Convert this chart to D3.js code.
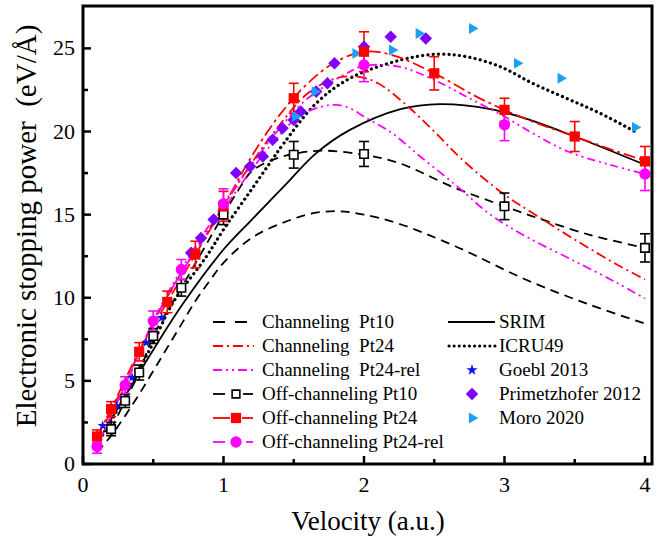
<!DOCTYPE html>
<html>
<head>
<meta charset="utf-8">
<script src="https://cdn.jsdelivr.net/npm/d3@7"></script>
<style>
  body { margin: 0; background: #fff; }
</style>
</head>
<body>
<svg id="chart" width="672" height="542"></svg>
<script>
// ---- data ----
const chPt10V = [0.1, 0.2, 0.3, 0.4, 0.5, 0.6, 0.7, 0.8, 0.9, 1.0, 1.2, 1.45, 1.65, 1.83, 2.0, 2.25, 2.65, 3.15, 3.6, 4.0];
const chPt10S = [0.7, 1.7, 2.9, 4.2, 5.6, 7.0, 8.4, 9.8, 11.0, 12.1, 13.6, 14.6, 15.1, 15.2, 15.0, 14.45, 13.1, 11.1, 9.6, 8.45];

const chPt24V = [0.1, 0.3, 0.5, 0.7, 1.0, 1.2, 1.4, 1.6, 1.8, 1.95, 2.1, 2.3, 2.5, 2.7, 3.0, 3.2, 3.5, 3.8, 4.0];
const chPt24S = [1.5, 4.9, 8.5, 11.5, 15.5, 18.1, 20.4, 22.3, 23.2, 23.3, 22.9, 21.6, 20.0, 18.3, 16.2, 15.1, 13.5, 12.0, 11.1];

const chRelV = [0.1, 0.3, 0.5, 0.7, 1.0, 1.2, 1.4, 1.55, 1.7, 1.8, 1.9, 2.0, 2.2, 2.4, 2.65, 2.9, 3.15, 3.5, 3.8, 4.0];
const chRelS = [1.1, 4.7, 8.5, 11.5, 15.3, 17.7, 19.8, 21.0, 21.5, 21.6, 21.4, 20.9, 19.9, 18.5, 16.8, 15.0, 13.7, 12.2, 10.9, 9.95];

const offPt10CurveV = [0.2, 0.3, 0.4, 0.5, 0.7, 1.0, 1.1, 1.2, 1.35, 1.5, 1.7, 2.0, 2.25, 2.65, 3.0, 3.2, 3.6, 4.0];
const offPt10CurveS = [2.1, 3.8, 5.5, 7.7, 10.6, 15.0, 16.4, 17.6, 18.3, 18.65, 18.85, 18.6, 18.1, 16.6, 15.5, 14.9, 13.8, 13.0];
const offPt10V = [0.2, 0.3, 0.4, 0.5, 0.7, 1.0, 1.5, 2.0, 3.0, 4.0];
const offPt10S = [2.1, 3.8, 5.5, 7.7, 10.6, 15.0, 18.6, 18.65, 15.5, 13.0];
const offPt10E = [0.4, 0.4, 0.45, 0.45, 0.5, 0.6, 0.8, 0.75, 0.8, 0.85];

const offPt24CurveV = [0.1, 0.2, 0.4, 0.6, 0.8, 1.0, 1.2, 1.4, 1.6, 1.8, 2.0, 2.2, 2.5, 2.8, 3.0, 3.2, 3.5, 3.8, 4.0];
const offPt24CurveS = [1.65, 3.3, 6.8, 9.75, 12.6, 15.5, 18.5, 21.0, 22.9, 24.2, 24.8, 24.6, 23.5, 22.1, 21.3, 20.6, 19.7, 18.8, 18.25];
const offPt24V = [0.1, 0.2, 0.4, 0.6, 0.8, 1.0, 1.5, 2.0, 2.5, 3.0, 3.5, 4.0];
const offPt24S = [1.65, 3.3, 6.75, 9.75, 12.6, 15.5, 22.0, 24.8, 23.5, 21.3, 19.7, 18.2];
const offPt24E = [0.4, 0.45, 0.55, 0.65, 0.8, 0.9, 0.9, 1.2, 1.0, 0.7, 0.9, 0.9];

const offRelCurveV = [0.1, 0.3, 0.5, 0.7, 1.0, 1.2, 1.4, 1.6, 1.9, 2.0, 2.25, 2.5, 2.75, 3.0, 3.2, 3.45, 3.75, 4.0];
const offRelCurveS = [1.05, 4.75, 8.6, 11.7, 15.65, 18.0, 20.2, 22.0, 23.6, 23.95, 23.9, 23.1, 22.0, 20.9, 19.9, 18.8, 18.0, 17.45];
const offRelV = [0.1, 0.3, 0.5, 0.7, 1.0, 2.0, 3.0, 4.0];
const offRelS = [1.05, 4.75, 8.6, 11.7, 15.65, 24.0, 20.4, 17.45];
const offRelE = [0.4, 0.5, 0.6, 0.6, 0.9, 1.0, 0.95, 1.0];

const srimV = [0.1, 0.2, 0.3, 0.43, 0.7, 1.0, 1.19, 1.43, 1.66, 1.9, 2.26, 2.54, 2.9, 3.18, 3.5, 4.0];
const srimS = [1.2, 2.7, 4.1, 5.9, 9.5, 12.9, 14.6, 16.7, 18.7, 20.1, 21.35, 21.65, 21.35, 20.7, 19.7, 18.0];

const icruV = [0.1, 0.2, 0.3, 0.4, 0.5, 0.64, 0.88, 1.0, 1.19, 1.33, 1.43, 1.66, 1.9, 2.26, 2.52, 2.73, 2.97, 3.2, 3.44, 3.68, 3.95];
const icruS = [1.2, 2.6, 4.1, 5.7, 7.3, 9.7, 12.5, 14.1, 16.4, 18.1, 19.3, 21.7, 23.2, 24.3, 24.65, 24.5, 23.9, 22.9, 22.0, 21.1, 19.9];

const goeblV = [0.14, 0.24, 0.35, 0.45, 0.56];
const goeblS = [2.3, 3.5, 5.2, 7.3, 8.8];

const primV = [0.77, 0.84, 0.93, 1.09, 1.19, 1.28, 1.35, 1.42, 1.5, 1.55, 1.66, 1.74, 1.79, 2.0, 2.19, 2.44];
const primS = [12.7, 13.6, 14.7, 17.5, 17.9, 18.5, 19.5, 20.2, 20.7, 21.2, 22.4, 22.9, 24.1, 25.1, 25.7, 25.6];

const moroV = [1.51, 1.65, 1.94, 2.2, 2.39, 2.77, 3.09, 3.4, 3.93];
const moroS = [20.9, 22.4, 24.7, 24.9, 25.9, 26.2, 24.1, 23.2, 20.25];

const xTicks = [0, 1, 2, 3, 4];
const yTicks = [0, 5, 10, 15, 20, 25];

// ---- layout ----
const FONT = "'Liberation Serif', 'DejaVu Serif', serif";
const svg = d3.select("#chart").attr("font-family", FONT);
const mLeft = 83, mRight = 652, mTop = 6, mBottom = 464;
const x = d3.scaleLinear().domain([0, 4.05]).range([mLeft, mRight]);
const y = d3.scaleLinear().domain([0, 27.55]).range([mBottom, mTop]);

const RED = "#ff0000", MAG = "#ff00ff", PURP = "#8000ff", SKY = "#1ea0f0", BLUE = "#0a14f0";

function pts(vs, ss) { return vs.map((v, i) => ({ v: v, s: ss[i] })); }
const line = d3.line().x(d => x(d.v)).y(d => y(d.s)).curve(d3.curveCatmullRom.alpha(0.5));

const plot = svg.append("g");

function drawCurve(vs, ss, color, dash, width, cap) {
  plot.append("path")
    .datum(pts(vs, ss))
    .attr("d", line)
    .attr("fill", "none")
    .attr("stroke", color)
    .attr("stroke-width", width || 1.8)
    .attr("stroke-linecap", cap || "butt")
    .attr("stroke-dasharray", dash);
}

drawCurve(chPt10V, chPt10S, "#000", "9,6");
drawCurve(offPt10CurveV, offPt10CurveS, "#000", "9,6");
drawCurve(srimV, srimS, "#000", null, 1.8);
drawCurve(icruV, icruS, "#000", "0.1,5.2", 3.2, "round");
drawCurve(chPt24V, chPt24S, RED, "10,4,2,4");
drawCurve(offPt24CurveV, offPt24CurveS, RED, "12,4,3,4");
drawCurve(chRelV, chRelS, MAG, "9,4,2,4,2,4");
drawCurve(offRelCurveV, offRelCurveS, MAG, "8,4,2,4,2,4");

// error bars
function errorBars(vs, ss, es, color) {
  const g = plot.append("g").attr("stroke", color).attr("stroke-width", 1.6);
  pts(vs, ss).forEach((d, i) => {
    const cx = x(d.v), y0 = y(d.s - es[i]), y1 = y(d.s + es[i]);
    g.append("line").attr("x1", cx).attr("x2", cx).attr("y1", y0).attr("y2", y1);
    g.append("line").attr("x1", cx - 5).attr("x2", cx + 5).attr("y1", y0).attr("y2", y0);
    g.append("line").attr("x1", cx - 5).attr("x2", cx + 5).attr("y1", y1).attr("y2", y1);
  });
}
errorBars(offPt10V, offPt10S, offPt10E, "#000");
errorBars(offPt24V, offPt24S, offPt24E, RED);
errorBars(offRelV, offRelS, offRelE, MAG);

// markers
const sym = {
  square: d3.symbol().type(d3.symbolSquare),
  circle: d3.symbol().type(d3.symbolCircle),
  diamond: d3.symbol().type(d3.symbolDiamond2),
  star: d3.symbol().type(d3.symbolStar),
  tri: d3.symbol().type(d3.symbolTriangle2)
};

function markers(vs, ss, gen, size, fill, stroke, rot) {
  plot.append("g").selectAll("path")
    .data(pts(vs, ss))
    .join("path")
    .attr("d", gen.size(size)())
    .attr("transform", d => `translate(${x(d.v)},${y(d.s)})` + (rot ? ` rotate(${rot})` : ""))
    .attr("fill", fill)
    .attr("stroke", stroke || "none")
    .attr("stroke-width", 1.6);
}

markers(goeblV, goeblS, sym.star, 32, BLUE);
markers(primV, primS, sym.diamond, 100, PURP);
markers(moroV, moroS, sym.tri, 85, SKY, null, 90);
markers(offPt10V, offPt10S, sym.square, 72, "#fff", "#000");
markers(offPt24V, offPt24S, sym.square, 105, RED);
markers(offRelV, offRelS, sym.circle, 100, MAG);

// ---- frame and axes ----
svg.append("rect")
  .attr("x", mLeft).attr("y", mTop)
  .attr("width", mRight - mLeft).attr("height", mBottom - mTop)
  .attr("fill", "none").attr("stroke", "#000").attr("stroke-width", 3);

const ticks = svg.append("g").attr("stroke", "#000").attr("stroke-width", 2.5);
d3.range(0, 4.01, 0.5).forEach(v => {
  const major = Math.abs(v - Math.round(v)) < 1e-6;
  ticks.append("line").attr("x1", x(v)).attr("x2", x(v))
    .attr("y1", mBottom).attr("y2", mBottom - (major ? 8 : 5));
});
d3.range(0, 27.5, 2.5).forEach(s => {
  const major = s % 5 === 0;
  ticks.append("line").attr("x1", mLeft).attr("x2", mLeft + (major ? 8 : 5))
    .attr("y1", y(s)).attr("y2", y(s));
});

svg.append("g").selectAll("text").data(xTicks).join("text")
  .attr("x", d => x(d)).attr("y", mBottom + 28)
  .attr("text-anchor", "middle").attr("font-size", 22).text(d => d);

svg.append("g").selectAll("text").data(yTicks).join("text")
  .attr("x", mLeft - 8).attr("y", d => y(d) + 7)
  .attr("text-anchor", "end").attr("font-size", 22).text(d => d);

svg.append("text")
  .attr("x", 368).attr("y", 530)
  .attr("text-anchor", "middle").attr("font-size", 27)
  .text("Velocity (a.u.)");

svg.append("text")
  .attr("transform", "translate(36,226) rotate(-90)")
  .attr("text-anchor", "middle").attr("font-size", 29)
  .style("white-space", "pre")
  .text("Electronic stopping power  (eV/Å)");

// ---- legend ----
const leg = svg.append("g");
const rowY = [322, 346, 370, 394, 418, 442];

function legLine(x1, x2, yy, color, dash, width, cap) {
  leg.append("line").attr("x1", x1).attr("x2", x2).attr("y1", yy).attr("y2", yy)
    .attr("stroke", color).attr("stroke-width", width || 1.8)
    .attr("stroke-dasharray", dash).attr("stroke-linecap", cap || "butt");
}
function legText(tx, yy, str) {
  leg.append("text").attr("x", tx).attr("y", yy + 6).attr("font-size", 19)
    .style("white-space", "pre").text(str);
}
function legMark(cx, yy, gen, size, fill, stroke, rot) {
  leg.append("path").attr("d", gen.size(size)())
    .attr("transform", `translate(${cx},${yy})` + (rot ? ` rotate(${rot})` : ""))
    .attr("fill", fill).attr("stroke", stroke || "none").attr("stroke-width", 1.6);
}

legLine(213, 247, rowY[0], "#000", "12,10");
legText(262, rowY[0], "Channeling  Pt10");
legLine(213, 254, rowY[1], RED, "10,4,2,4");
legText(262, rowY[1], "Channeling  Pt24");
legLine(213, 254, rowY[2], MAG, "9,4,2,4,2,4");
legText(262, rowY[2], "Channeling  Pt24-rel");

legLine(213, 225, rowY[3], "#000", null);
legLine(243, 253, rowY[3], "#000", null);
legMark(236, rowY[3], sym.square, 60, "#fff", "#000");
legText(262, rowY[3], "Off-channeling Pt10");
legLine(213, 230, rowY[4], RED, null);
legLine(242, 253, rowY[4], RED, null);
legMark(236, rowY[4], sym.square, 105, RED);
legText(262, rowY[4], "Off-channeling Pt24");
legLine(213, 225, rowY[5], MAG, null);
legLine(246, 253, rowY[5], MAG, null);
legMark(236, rowY[5], sym.circle, 100, MAG);
legText(262, rowY[5], "Off-channeling Pt24-rel");

legLine(448, 495, rowY[0], "#000", null, 2);
legText(499, rowY[0], "SRIM");
legLine(449, 495, rowY[1], "#000", "0.1,5", 3, "round");
legText(499, rowY[1], "ICRU49");
legMark(472, rowY[2], sym.star, 40, BLUE);
legText(499, rowY[2], "Goebl 2013");
legMark(472, rowY[3], sym.diamond, 100, PURP);
legText(499, rowY[3], "Primetzhofer 2012");
legMark(472, rowY[4], sym.tri, 85, SKY, null, 90);
legText(499, rowY[4], "Moro 2020");
</script>
</body>
</html>
